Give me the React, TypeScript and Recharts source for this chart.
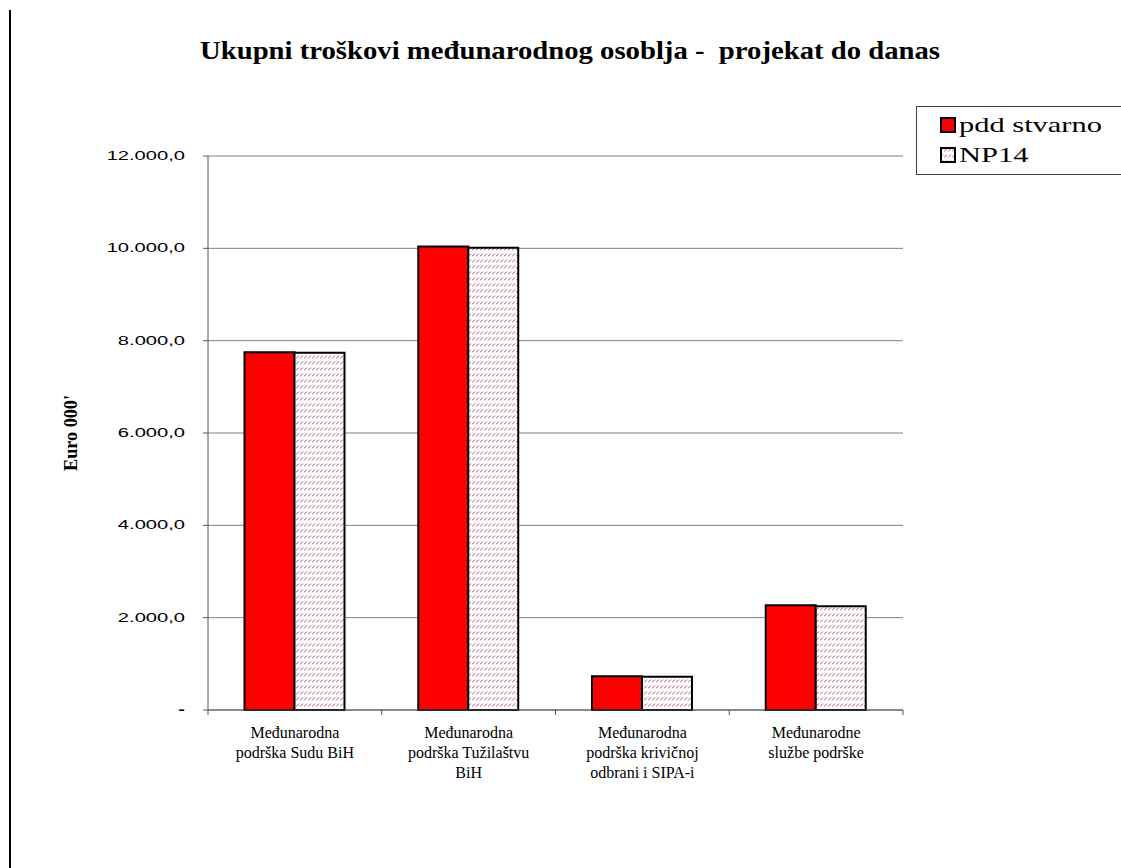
import React from 'react';
import { BarChart, Bar, XAxis, YAxis, CartesianGrid } from 'recharts';

const categories = [
  ['Međunarodna', 'podrška Sudu BiH'],
  ['Međunarodna', 'podrška Tužilaštvu', 'BiH'],
  ['Međunarodna', 'podrška krivičnoj', 'odbrani i SIPA-i'],
  ['Međunarodne', 'službe podrške'],
];
const pddStvarno = [7750, 10040, 730, 2270];
const np14 = [7740, 10010, 720, 2250];
const yTicks = [0, 2000, 4000, 6000, 8000, 10000, 12000];

const data = categories.map((lines, i) => ({
  name: lines.join(' '),
  lines,
  pdd: pddStvarno[i],
  np14: np14[i],
}));

const W = 1121;
const H = 868;
const margin = { top: 156, right: 218, bottom: 78, left: 118 };
const yAxisWidth = 90;
const plotWidth = W - margin.left - margin.right - yAxisWidth;
const halfBand = plotWidth / categories.length / 2;

const serif = '"Liberation Serif", "Times New Roman", serif';
const sans = '"Liberation Sans", Arial, sans-serif';

const formatY = (v: number) => {
  if (v === 0) return '-';
  const s = Math.round(v).toString().replace(/\B(?=(\d{3})+(?!\d))/g, '.');
  return s + ',0';
};

// y labels in the original are wide and squat, so stretch them sideways
const ValueTick = (props: any) => {
  const { x, y, payload } = props;
  const label = formatY(payload.value);
  return (
    <text
      transform={`translate(${x - 16},${y + 4}) scale(1.55,1)`}
      textAnchor="end"
      fontFamily={sans}
      fontSize={13}
      fontWeight={label === '-' ? 'bold' : 'normal'}
      fill="#000"
    >
      {label}
    </text>
  );
};

const CategoryTick = (props: any) => {
  const { x, y, index } = props;
  const lines: string[] = data[index]?.lines || [];
  return (
    <g>
      <line x1={x - halfBand} x2={x - halfBand} y1={y} y2={y + 5} stroke="#555" />
      {index === categories.length - 1 && (
        <line x1={x + halfBand} x2={x + halfBand} y1={y} y2={y + 5} stroke="#555" />
      )}
      <text textAnchor="middle" fontFamily={serif} fontSize={16} fill="#000">
        {lines.map((l, i) => (
          <tspan key={i} x={x} y={y + 28 + i * 20}>
            {l}
          </tspan>
        ))}
      </text>
    </g>
  );
};

const Legend = () => (
  <div
    style={{
      position: 'absolute',
      left: 916,
      top: 106,
      width: 215,
      height: 69,
      border: '1px solid #404040',
      boxSizing: 'border-box',
      background: '#fff',
    }}
  >
    {[
      { label: 'pdd stvarno', fill: '#FF0000' },
      { label: 'NP14', fill: 'url(#np14Hatch)' },
    ].map((item, i) => (
      <div
        key={item.label}
        style={{
          position: 'absolute',
          left: 23,
          top: 5 + i * 30,
          display: 'flex',
          alignItems: 'center',
          height: 26,
          whiteSpace: 'nowrap',
        }}
      >
        <svg width={16} height={16} style={{ marginRight: 3 }}>
          <rect x={1} y={1} width={14} height={14} fill={item.fill} stroke="#000" strokeWidth={2} />
        </svg>
        <span
          style={{
            display: 'inline-block',
            fontFamily: serif,
            fontSize: 21,
            color: '#000',
            transform: 'scaleX(1.45)',
            transformOrigin: 'left center',
          }}
        >
          {item.label}
        </span>
      </div>
    ))}
  </div>
);

export default function App() {
  return (
    <div
      style={{
        position: 'absolute',
        left: 0,
        top: 0,
        width: W,
        height: H,
        overflow: 'hidden',
        background: '#fff',
      }}
    >
      <svg width={0} height={0} style={{ position: 'absolute' }}>
        <defs>
          <pattern id="np14Hatch" width={4} height={6} patternUnits="userSpaceOnUse">
            <rect width={4} height={6} fill="#fff" />
            <path d="M0,4.5 L3,1.5" stroke="#b5487e" strokeWidth={1} />
          </pattern>
        </defs>
      </svg>
      <div
        style={{
          position: 'absolute',
          left: 9,
          top: 10,
          width: 2,
          height: H - 10,
          background: '#000',
        }}
      />
      <svg width={W} height={100} style={{ position: 'absolute', left: 0, top: 0 }}>
        <text
          x={570}
          y={59}
          textAnchor="middle"
          fontFamily={serif}
          fontWeight="bold"
          fontSize={26}
          textLength={740}
          lengthAdjust="spacingAndGlyphs"
          fill="#000"
        >
          {'Ukupni troškovi međunarodnog osoblja -\u00a0 projekat do danas'}
        </text>
      </svg>
      <svg width={120} height={H} style={{ position: 'absolute', left: 0, top: 0 }}>
        <text
          transform="translate(77,433) rotate(-90)"
          textAnchor="middle"
          fontFamily={serif}
          fontWeight="bold"
          fontSize={19}
          textLength={76}
          lengthAdjust="spacingAndGlyphs"
          fill="#000"
        >
          Euro 000'
        </text>
      </svg>
      <div style={{ position: 'absolute', left: 0, top: 0 }}>
        <BarChart
          width={W}
          height={H}
          data={data}
          margin={margin}
          barCategoryGap="21%"
          barGap={0}
        >
          <CartesianGrid vertical={false} stroke="#808080" strokeWidth={1} />
          <XAxis
            dataKey="name"
            height={80}
            axisLine={{ stroke: '#555', strokeWidth: 1 }}
            tickLine={false}
            tickSize={0}
            tickMargin={0}
            interval={0}
            tick={<CategoryTick />}
          />
          <YAxis
            width={yAxisWidth}
            domain={[0, 12000]}
            ticks={yTicks}
            interval={0}
            axisLine={{ stroke: '#555', strokeWidth: 1 }}
            tickLine={{ stroke: '#555' }}
            tickSize={5}
            tick={<ValueTick />}
          />
          <Bar dataKey="pdd" fill="#FF0000" stroke="#000" strokeWidth={2} isAnimationActive={false} />
          <Bar dataKey="np14" fill="url(#np14Hatch)" stroke="#000" strokeWidth={2} isAnimationActive={false} />
        </BarChart>
      </div>
      <Legend />
    </div>
  );
}
